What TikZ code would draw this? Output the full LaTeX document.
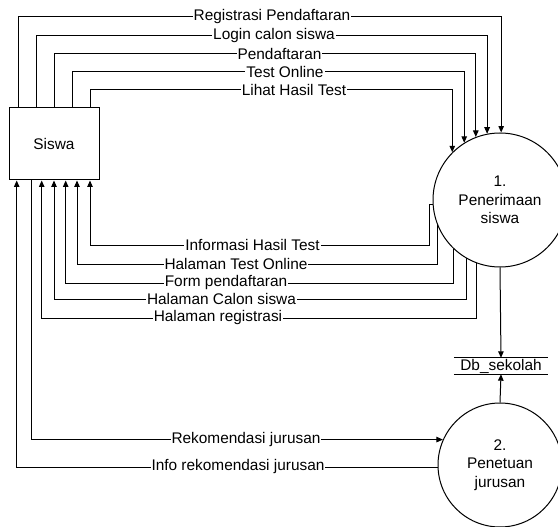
\documentclass[tikz,border=0pt]{standalone}
\usepackage{fontspec}
\setmainfont{Liberation Sans}
\usetikzlibrary{arrows.meta}
\begin{document}
\begin{tikzpicture}[x=1pt,y=-1pt,
  every node/.style={font=\fontsize{15.4}{18.5}\selectfont},
  flow/.style={draw=black,line width=1pt,-{Triangle[length=6.5pt,width=5.5pt]}},
  line/.style={draw=black,line width=1pt},
  lbl/.style={fill=white,inner xsep=1pt,inner ysep=0pt},
  proc/.style={circle,draw,line width=1pt,align=center,inner sep=0pt},
]
\clip (0,0) rectangle (558,527);
\fill[white] (0,0) rectangle (558,527);
% nodes
\node[draw,line width=1pt,minimum width=90pt,minimum height=72pt] (s) at (54,144) {Siswa};
\node[proc,minimum size=134pt] (c1) at (500,200) {1.\\Penerimaan\\siswa};
\node[proc,minimum size=124pt] (c2) at (500,465) {2.\\Penetuan\\jurusan};
\node[minimum width=94pt,minimum height=16pt,inner sep=0pt] (db) at (501,366) {Db\_sekolah};
\draw[line] (db.north west) -- (db.north east) (db.south west) -- (db.south east);
% Siswa -> Penerimaan
\draw[flow] (s.north -| 18,0) |- (c1.89 |- 0,17) -- (c1.89);
\draw[flow] (s.north -| 36,0) |- (c1.101 |- 0,36) -- (c1.101);
\draw[flow] (s.north -| 54,0) |- (c1.111 |- 0,54) -- (c1.111);
\draw[flow] (s.north -| 72,0) |- (c1.122 |- 0,72) -- (c1.122);
\draw[flow] (s.north -| 90,0) |- (c1.135 |- 0,90) -- (c1.135);
% Penerimaan -> Siswa
\draw[flow] (c1.184) -| (429,245) -| (s.south -| 90,0);
\draw[flow] (c1.202) |- (77,264) -- (s.south -| 77,0);
\draw[flow] (c1.226) |- (65.7,283) -- (s.south -| 65.7,0);
\draw[flow] (c1.240) |- (54,299) -- (s.south -| 54,0);
\draw[flow] (c1.250) |- (41.7,318) -- (s.south -| 41.7,0);
% database
\draw[flow] (c1.south) -- (db.north);
\draw[flow] (c2.north) -- (db.south);
% Penetuan jurusan
\draw[flow] (s.south -| 31,0) |- (c2.156);
\draw[flow] (c2.182) -| (s.south -| 16.7,0);
% labels
\node[lbl] (l1) at (272,17) {Registrasi Pendaftaran};
\node[lbl] (l2) at (274,36) {Login calon siswa};
\node[lbl] (l3) at (279.5,54) {Pendaftaran};
\node[lbl] (l4) at (285,72) {Test Online};
\node[lbl] (l5) at (294,90) {Lihat Hasil Test};
\node[lbl] (l6) at (252.5,245) {Informasi Hasil Test};
\node[lbl] (l7) at (236,264) {Halaman Test Online};
\node[lbl] (l8) at (226,283) {Form pendaftaran};
\node[lbl] (l9) at (221.5,299) {Halaman Calon siswa};
\node[lbl] (l10) at (218,318) {Halaman registrasi};
\node[lbl] (l11) at (246,440) {Rekomendasi jurusan};
\node[lbl] (l12) at (238,467) {Info rekomendasi jurusan};
\end{tikzpicture}
\end{document}
